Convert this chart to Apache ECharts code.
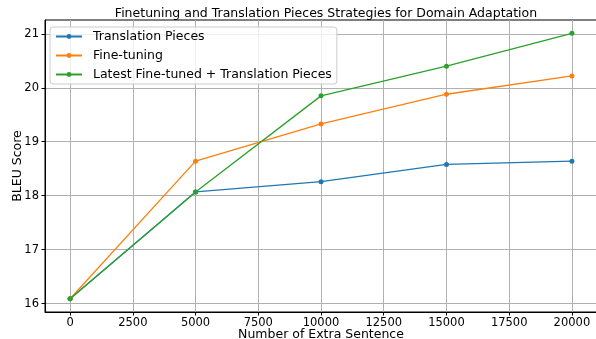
<!DOCTYPE html>
<html>
<head>
<meta charset="utf-8">
<script src="https://cdn.jsdelivr.net/npm/echarts@6/dist/echarts.min.js"></script>
<style>
  html, body { margin: 0; padding: 0; background: #fff; }
  #chart { width: 596px; height: 339px; }
</style>
</head>
<body>
<div id="chart"></div>
<script>
// Extra sentences added and BLEU scores for each strategy
const sentences = [0, 5000, 10000, 15000, 20000];
const translationPieces = [16.09, 18.07, 18.26, 18.58, 18.64];
const fineTuning = [16.09, 18.64, 19.33, 19.88, 20.22];
const latestPlusPieces = [16.09, 18.07, 19.85, 20.40, 21.01];

const xTicks = [0, 2500, 5000, 7500, 10000, 12500, 15000, 17500, 20000];
const yTicks = [16, 17, 18, 19, 20, 21];

const FONT = 'DejaVu Sans';
const pair = (xs, ys) => xs.map((x, i) => [x, ys[i]]);

const chart = echarts.init(document.getElementById('chart'), null, { renderer: 'canvas' });

const lineSeries = (name, color, values, z) => ({
  name: name,
  type: 'line',
  data: pair(sentences, values),
  color: color,
  symbol: 'circle',
  symbolSize: 5,
  showSymbol: true,
  lineStyle: { width: 1.3, color: color },
  itemStyle: { color: color },
  z: z,
  animation: false
});

chart.setOption({
  animation: false,
  backgroundColor: '#fff',
  title: {
    text: 'Finetuning and Translation Pieces Strategies for Domain Adaptation',
    left: 321,
    top: 2,
    textAlign: 'center',
    textStyle: { fontFamily: FONT, fontSize: 12.5, fontWeight: 'normal', color: '#000' }
  },
  legend: {
    orient: 'vertical',
    left: 50,
    top: 27,
    padding: [3, 5, 3, 5],
    itemWidth: 26,
    itemHeight: 6,
    itemGap: 6,
    borderColor: '#cccccc',
    borderWidth: 1,
    borderRadius: 3,
    backgroundColor: 'rgba(255,255,255,0.8)',
    textStyle: { fontFamily: FONT, fontSize: 12.5, color: '#000', padding: [0, 0, 0, 6] },
    data: ['Translation Pieces', 'Fine-tuning', 'Latest Fine-tuned + Translation Pieces']
  },
  grid: {
    left: 45,
    right: -1,
    top: 20,
    bottom: 27,
    outerBoundsMode: 'none',
    containLabel: false,
    show: true,
    borderColor: '#000',
    borderWidth: 1,
    backgroundColor: 'transparent'
  },
  xAxis: {
    type: 'value',
    min: -1000,
    max: 21000,
    name: 'Number of Extra Sentence',
    nameLocation: 'middle',
    nameMoveOverlap: false,
    nameGap: 16,
    nameTextStyle: { fontFamily: FONT, fontSize: 12.5, color: '#000' },
    axisLine: { show: true, onZero: false, lineStyle: { color: '#000', width: 1 } },
    axisTick: { show: true, inside: false, length: 3.5, customValues: xTicks, lineStyle: { color: '#000' } },
    axisLabel: {
      customValues: xTicks,
      formatter: (v) => String(v),
      fontFamily: FONT, fontSize: 11.5, color: '#000', margin: 5
    },
    splitLine: { show: true, lineStyle: { color: '#b0b0b0', width: 1 } }
  },
  yAxis: {
    type: 'value',
    min: 15.844,
    max: 21.256,
    name: 'BLEU Score',
    nameLocation: 'middle',
    nameMoveOverlap: false,
    nameGap: 21,
    nameRotate: 90,
    nameTextStyle: { fontFamily: FONT, fontSize: 12.5, color: '#000' },
    axisLine: { show: true, onZero: false, lineStyle: { color: '#000', width: 1 } },
    axisTick: { show: true, inside: false, length: 3.5, customValues: yTicks, lineStyle: { color: '#000' } },
    axisLabel: {
      customValues: yTicks,
      formatter: (v) => String(v),
      fontFamily: FONT, fontSize: 11.5, color: '#000', margin: 6
    },
    splitLine: { show: true, lineStyle: { color: '#b0b0b0', width: 1 } }
  },
  series: [
    lineSeries('Translation Pieces', '#1f77b4', translationPieces, 2),
    lineSeries('Fine-tuning', '#ff7f0e', fineTuning, 3),
    lineSeries('Latest Fine-tuned + Translation Pieces', '#2ca02c', latestPlusPieces, 4)
  ]
});
</script>
</body>
</html>
